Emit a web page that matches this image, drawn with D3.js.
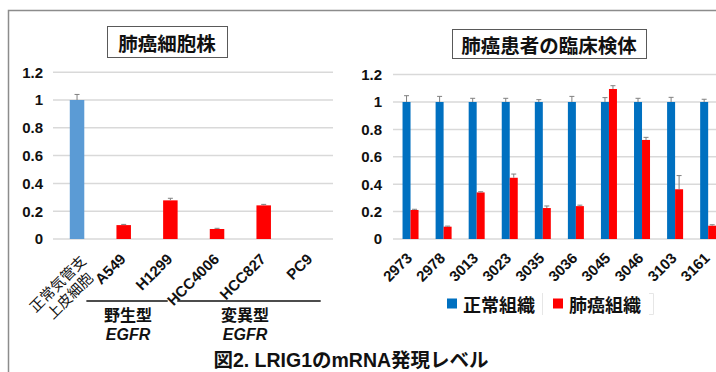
<!DOCTYPE html>
<html>
<head>
<meta charset="utf-8">
<script src="https://cdn.jsdelivr.net/npm/d3@7"></script>
<style>
  html, body { margin: 0; padding: 0; background: #fff; }
  svg { display: block; }
  .num { font-family: "Liberation Sans", Arial, "Noto Sans CJK JP", sans-serif; font-weight: bold; }
  .jp { font-family: "Noto Sans CJK JP", sans-serif; }
</style>
</head>
<body>
<svg id="chart" width="716" height="372"></svg>
<script>
// ---- cell lines (left panel) ----
const cellLines = ["正常気管支上皮細胞", "A549", "H1299", "HCC4006", "HCC827", "PC9"];
const cellValues = [1.0, 0.10, 0.278, 0.072, 0.242, 0.0];
const cellErrors = [0.04, 0.005, 0.015, 0.005, 0.007, 0.0];
const cellColors = ["#5B9BD5", "#FF0000", "#FF0000", "#FF0000", "#FF0000", "#FF0000"];
const cellGroups = [
  { name: "野生型", gene: "EGFR", from: "A549", to: "H1299" },
  { name: "変異型", gene: "EGFR", from: "HCC4006", to: "PC9" }
];

// ---- clinical samples (right panel) ----
const patients = ["2973", "2978", "3013", "3023", "3035", "3036", "3045", "3046", "3103", "3161"];
const normalValues = [1, 1, 1, 1, 1, 1, 1, 1, 1, 1];
const normalErrors = [0.046, 0.041, 0.027, 0.027, 0.017, 0.041, 0.032, 0.027, 0.034, 0.02];
const tumorValues = [0.212, 0.09, 0.34, 0.447, 0.226, 0.24, 1.095, 0.723, 0.363, 0.097];
const tumorErrors = [0.005, 0.004, 0.005, 0.027, 0.015, 0.007, 0.024, 0.019, 0.10, 0.007];
const seriesNames = ["正常組織", "肺癌組織"];
const seriesColors = ["#0070C0", "#FF0000"];

const yTicks = [0, 0.2, 0.4, 0.6, 0.8, 1, 1.2];
const yTickLabels = ["0", "0.2", "0.4", "0.6", "0.8", "1", "1.2"];

const svg = d3.select("#chart");
const gridColor = "#d9d9d9";
const errColor = "#808080";

// outer frame
svg.append("path")
  .attr("d", "M8.5,372 V10.5 H716")
  .attr("fill", "none").attr("stroke", "#8c8c8c").attr("stroke-width", 1.5);

function titleBox(cx, y0, w, h, text) {
  svg.append("rect").attr("x", cx - w / 2 + 0.5).attr("y", y0 + 0.5)
    .attr("width", w).attr("height", h)
    .attr("fill", "#fff").attr("stroke", "#595959").attr("stroke-width", 1);
  svg.append("text").attr("class", "jp")
    .attr("x", cx).attr("y", y0 + h / 2 + 1)
    .attr("text-anchor", "middle").attr("dominant-baseline", "central")
    .attr("font-size", 19.5).attr("font-weight", "bold").attr("fill", "#111")
    .text(text);
}

function yGrid(y, x0, x1, labelX) {
  const g = svg.append("g");
  g.selectAll("line").data(yTicks).join("line")
    .attr("x1", x0).attr("x2", x1)
    .attr("y1", d => y(d)).attr("y2", d => y(d))
    .attr("stroke", gridColor).attr("stroke-width", 1.5);
  g.selectAll("text").data(yTicks).join("text")
    .attr("class", "num")
    .attr("x", labelX).attr("y", d => y(d))
    .attr("dy", "0.36em").attr("text-anchor", "end")
    .attr("font-size", 15).attr("fill", "#111")
    .text((d, i) => yTickLabels[i]);
}

function errorBars(g, data, xf, y) {
  const e = g.selectAll(null).data(data.filter(d => d.err > 0)).join("g");
  e.append("line")
    .attr("x1", xf).attr("x2", xf)
    .attr("y1", d => y(d.v)).attr("y2", d => y(d.v + d.err))
    .attr("stroke", errColor).attr("stroke-width", 1);
  e.append("line")
    .attr("x1", d => xf(d) - 2.5).attr("x2", d => xf(d) + 2.5)
    .attr("y1", d => y(d.v + d.err)).attr("y2", d => y(d.v + d.err))
    .attr("stroke", errColor).attr("stroke-width", 1);
}

// ================= left panel =================
{
  const x = d3.scaleBand().domain(cellLines).range([53.7, 333.7]);
  const y = d3.scaleLinear().domain([0, 1.2]).range([239, 72.2]);
  titleBox(167, 26, 120, 31, "肺癌細胞株");
  yGrid(y, 53, 333, 43);

  const bw = 14.5;
  const data = cellLines.map((c, i) => ({ c, v: cellValues[i], err: cellErrors[i], col: cellColors[i] }));
  const g = svg.append("g");
  g.selectAll("rect").data(data.filter(d => d.v > 0)).join("rect")
    .attr("x", d => x(d.c) + x.bandwidth() / 2 - bw / 2)
    .attr("y", d => y(d.v))
    .attr("width", bw).attr("height", d => y(0) - y(d.v))
    .attr("fill", d => d.col);
  errorBars(g, data, d => x(d.c) + x.bandwidth() / 2, y);

  // category labels, rotated
  data.forEach((d, i) => {
    const cx = x(d.c) + x.bandwidth() / 2;
    const t = svg.append("g").attr("transform", `translate(${cx + 3},260) rotate(-45)`);
    if (i === 0) {
      t.append("text").attr("class", "jp").attr("x", 3.5).attr("y", 6.4)
        .attr("text-anchor", "end").attr("font-size", 14.5).attr("fill", "#111")
        .text(d.c.slice(0, 5));
      t.append("text").attr("class", "jp").attr("x", 3.5 - 36).attr("y", 23.4)
        .attr("text-anchor", "middle").attr("font-size", 14.5).attr("fill", "#111")
        .text(d.c.slice(5));
    } else {
      t.append("text").attr("class", "num").attr("text-anchor", "end")
        .attr("font-size", 15).attr("fill", "#111").text(d.c);
    }
  });

  // EGFR group brackets: rule spans from the first to the last label of the group
  const spans = [
    { x0: x(cellGroups[0].from) - 14, x1: x(cellGroups[0].to) + x.bandwidth() - 26, mid: 128 },
    { x0: x(cellGroups[1].from) - 16.5, x1: x(cellGroups[1].to) + x.bandwidth() - 13, mid: 245 }
  ];
  cellGroups.forEach((grp, k) => {
    const s = spans[k];
    svg.append("line").attr("x1", s.x0).attr("x2", s.x1).attr("y1", 301).attr("y2", 301)
      .attr("stroke", "#111").attr("stroke-width", 1.4);
    svg.append("text").attr("class", "jp").attr("x", s.mid).attr("y", 321)
      .attr("text-anchor", "middle").attr("font-size", 16).attr("font-weight", "bold").attr("fill", "#111")
      .text(grp.name);
    svg.append("text").attr("class", "num").attr("x", s.mid).attr("y", 339.5)
      .attr("text-anchor", "middle").attr("font-size", 16).attr("font-style", "italic").attr("fill", "#111")
      .text(grp.gene);
  });
}

// ================= right panel =================
{
  const x = d3.scaleBand().domain(patients).range([394, 724.7]);
  const y = d3.scaleLinear().domain([0, 1.2]).range([239, 74.6]);
  titleBox(549, 29, 194, 29, "肺癌患者の臨床検体");
  yGrid(y, 393, 716, 382);

  const bw = 8;
  const series = [
    { vals: normalValues, errs: normalErrors, off: -bw },
    { vals: tumorValues, errs: tumorErrors, off: 0 }
  ];
  series.forEach((s, si) => {
    const data = patients.map((p, i) => ({ p, v: s.vals[i], err: s.errs[i] }));
    const g = svg.append("g");
    g.selectAll("rect").data(data).join("rect")
      .attr("x", d => x(d.p) + x.bandwidth() / 2 + s.off)
      .attr("y", d => y(d.v))
      .attr("width", bw).attr("height", d => y(0) - y(d.v))
      .attr("fill", seriesColors[si]);
    errorBars(g, data, d => x(d.p) + x.bandwidth() / 2 + s.off + bw / 2, y);
  });

  svg.append("g").selectAll("g").data(patients).join("g")
    .attr("transform", d => `translate(${x(d) + x.bandwidth() / 2 + 2.5},259) rotate(-45)`)
    .append("text").attr("class", "num").attr("text-anchor", "end")
    .attr("font-size", 15).attr("fill", "#111").text(d => d);

  // legend
  const lg = svg.append("g");
  const items = [{ x: 447, tx: 463 }, { x: 553, tx: 569 }];
  items.forEach((it, i) => {
    lg.append("rect").attr("x", it.x).attr("y", 298.5).attr("width", 10).attr("height", 10)
      .attr("fill", seriesColors[i]);
    lg.append("text").attr("class", "jp").attr("x", it.tx).attr("y", 304)
      .attr("dominant-baseline", "central").attr("font-size", 18).attr("font-weight", "bold")
      .attr("fill", "#111").text(seriesNames[i]);
  });
  lg.append("line").attr("x1", 542.5).attr("x2", 542.5).attr("y1", 293).attr("y2", 315)
    .attr("stroke", "#e6e6e6").attr("stroke-width", 1);
  lg.append("path").attr("d", "M649,293.5 H653.5 V314.5 H649")
    .attr("fill", "none").attr("stroke", "#e6e6e6").attr("stroke-width", 1);
}

// figure caption
svg.append("text").attr("class", "num")
  .attr("x", 351).attr("y", 367).attr("text-anchor", "middle")
  .attr("font-size", 19.5).attr("fill", "#111")
  .text("図2. LRIG1のmRNA発現レベル");
</script>
</body>
</html>
